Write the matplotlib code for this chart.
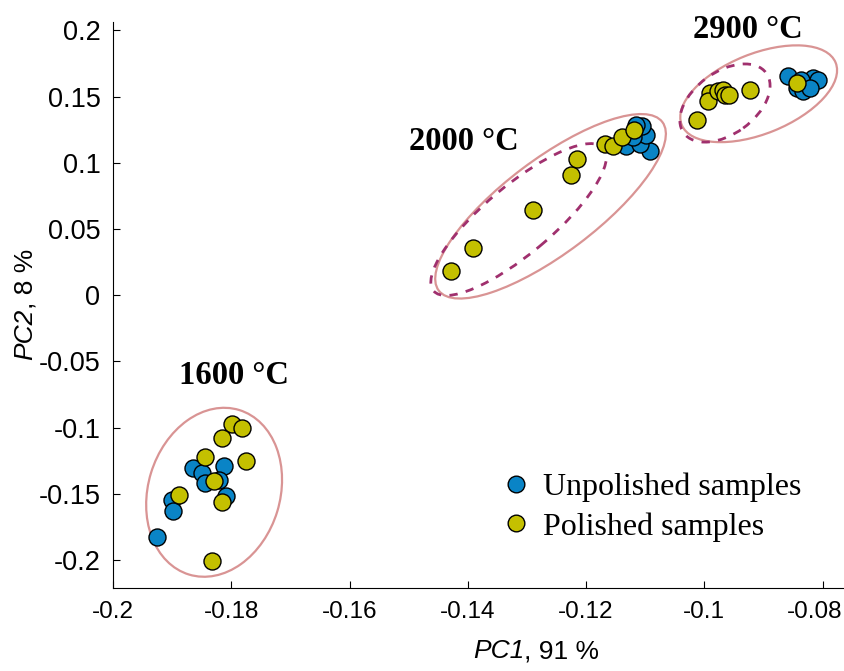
import matplotlib
matplotlib.use('Agg')
import matplotlib.pyplot as plt
from matplotlib.patches import Ellipse
from matplotlib.lines import Line2D
from matplotlib.transforms import ScaledTranslation

# 데이터
unpol_x = [-0.1926, -0.1864, -0.1850, -0.1844, -0.1812, -0.1820, -0.1809, -0.1901, -0.1898,
           -0.1092, -0.1132, -0.1109, -0.1098, -0.1106, -0.1115, -0.1121,
           -0.0858, -0.0844, -0.0833, -0.0825, -0.0816, -0.0808, -0.0836, -0.0822]
unpol_y = [-0.1828, -0.1305, -0.1344, -0.1420, -0.1292, -0.1398, -0.1513, -0.1546, -0.1631,
           0.1088, 0.1125, 0.1139, 0.1213, 0.1276, 0.1289, 0.1193,
           0.1654, 0.1566, 0.1541, 0.1603, 0.1642, 0.1629, 0.1629, 0.1566]

pol_x = [-0.1798, -0.1781, -0.1816, -0.1844, -0.1775, -0.1829, -0.1815, -0.1888, -0.1833,
         -0.1429, -0.1391, -0.1290, -0.1225, -0.1216, -0.1168, -0.1154, -0.1139, -0.1119,
         -0.1013, -0.0991, -0.0994, -0.0977, -0.0968, -0.0965, -0.0958, -0.0923, -0.0844]
pol_y = [-0.0972, -0.1002, -0.1078, -0.1224, -0.1249, -0.1405, -0.1563, -0.1511, -0.2009,
         0.0181, 0.0357, 0.0642, 0.0906, 0.1029, 0.1146, 0.1131, 0.1196, 0.1251,
         0.1322, 0.1528, 0.1465, 0.1541, 0.1554, 0.1516, 0.1516, 0.1554, 0.1604]

group_labels = ['1600 °C', '2000 °C', '2900 °C']
label_x = [-0.1796, -0.1407, -0.0926]
label_y = [-0.0604, 0.1163, 0.2004]

# 타원: 중심(데이터), 반축(px), 각도
ell_cx = [-0.1829, -0.1260, -0.1314, -0.0908, -0.0965]
ell_cy = [-0.1488, 0.0672, 0.0572, 0.1522, 0.1452]
ell_a = [86, 140, 111, 83, 51]
ell_b = [66, 47, 34, 40, 31]
ell_ang = [73, 37, 40, 22, 36]
ell_dashed = [False, False, True, False, True]

xticks = [-0.2, -0.18, -0.16, -0.14, -0.12, -0.1, -0.08]
yticks = [-0.2, -0.15, -0.1, -0.05, 0, 0.05, 0.1, 0.15, 0.2]

BLUE = '#0a84c6'
YELLOW = '#c4c000'
SOLID = '#d99494'
DASH = '#a0306e'

fig = plt.figure(figsize=(8.45, 6.71), dpi=100)
ax = fig.add_axes([113 / 845, 83 / 671, 1 - 113 / 845, (588 - 22) / 671])
ax.set_xlim(-0.2, -0.0762)
ax.set_ylim(-0.2211, 0.2064)

ax.scatter(unpol_x, unpol_y, s=150, c=BLUE, edgecolors='black', linewidths=1, zorder=3)
ax.scatter(pol_x, pol_y, s=150, c=YELLOW, edgecolors='black', linewidths=1, zorder=4)

for cx, cy, a, b, ang, d in zip(ell_cx, ell_cy, ell_a, ell_b, ell_ang, ell_dashed):
    tr = fig.dpi_scale_trans + ScaledTranslation(cx, cy, ax.transData)
    e = Ellipse((0, 0), 2 * a / 100, 2 * b / 100, angle=ang, transform=tr,
                fill=False, edgecolor=DASH if d else SOLID,
                linewidth=2.0 if d else 1.6, linestyle=(0, (3, 3)) if d else '-', zorder=2)
    ax.add_patch(e)

for t, x, y in zip(group_labels, label_x, label_y):
    ax.text(x, y, t, ha='center', va='center', fontsize=23.5, fontweight='bold',
            family='Liberation Serif')

ax.spines['top'].set_visible(False)
ax.spines['right'].set_visible(False)
ax.set_xticks(xticks)
ax.set_xticklabels(['-0.2', '-0.18', '-0.16', '-0.14', '-0.12', '-0.1', '-0.08'],
                   family='Liberation Sans', fontsize=17.5)
ax.set_yticks(yticks)
ax.set_yticklabels(['-0.2', '-0.15', '-0.1', '-0.05', '0', '0.05', '0.1', '0.15', '0.2'],
                   family='Liberation Sans', fontsize=19.5)
ax.tick_params(direction='in', length=5, width=0.8)
ax.tick_params(axis='x', pad=9)
ax.tick_params(axis='y', pad=9)

# 마지막 x 눈금 글자가 잘리지 않게 약간 왼쪽으로
last = ax.get_xticklabels()[-1]
last.set_transform(last.get_transform() + ScaledTranslation(-8 / 100, 0, fig.dpi_scale_trans))

# 축 제목: 앞부분만 이탤릭
t1 = fig.text(473 / 845, 1 - 658 / 671, 'PC1', fontsize=19, family='Liberation Sans',
              style='italic', ha='left', va='baseline')
fig.text(0, 0, ', 91 %', fontsize=19, family='Liberation Sans', ha='left', va='baseline',
         transform=t1.get_transform() + ScaledTranslation(0, 0, fig.dpi_scale_trans))
t2 = fig.text(32 / 845, 1 - 360 / 671, 'PC2', fontsize=19, family='Liberation Sans',
              style='italic', ha='left', va='baseline', rotation=90, rotation_mode='anchor')

fig.canvas.draw()
r = fig.canvas.get_renderer()
bb1 = t1.get_window_extent(r)
fig.texts[-2].set_position((bb1.x1 / fig.bbox.width, t1.get_position()[1]))
fig.texts[-2].set_transform(fig.transFigure)
bb2 = t2.get_window_extent(r)
fig.text(t2.get_position()[0], bb2.y1 / fig.bbox.height, ', 8 %', fontsize=19,
         family='Liberation Sans', ha='left', va='baseline', rotation=90, rotation_mode='anchor')

handles = [Line2D([], [], marker='o', ls='', markersize=12, markerfacecolor=BLUE, markeredgecolor='black'),
           Line2D([], [], marker='o', ls='', markersize=12, markerfacecolor=YELLOW, markeredgecolor='black')]
fig.legend(handles, ['Unpolished samples', 'Polished samples'], loc='upper left',
           bbox_to_anchor=(490 / 845, 1 - 457 / 671), frameon=False,
           prop={'family': 'Liberation Serif', 'size': 23},
           handletextpad=0.57, labelspacing=0.3, handlelength=0.6, borderpad=0)

fig.savefig('out.png', dpi=100)
